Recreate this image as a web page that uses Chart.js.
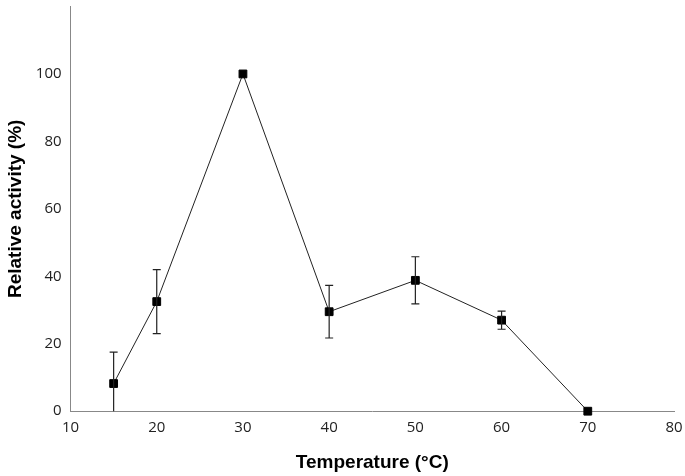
<!doctype html>
<html lang="en">
<head>
<meta charset="utf-8">
<title>Relative activity vs temperature</title>
<script src="https://cdn.jsdelivr.net/npm/chart.js@4.4.0/dist/chart.umd.min.js"></script>
<style>
  html, body { margin: 0; padding: 0; background: #fff; }
  #wrap { width: 685px; height: 476px; }
</style>
</head>
<body>
<div id="wrap"><canvas id="chart" width="685" height="476"></canvas></div>
<script>
// data
var temperatures = [15, 20, 30, 40, 50, 60, 70];
var activity = [8.2, 32.5, 100, 29.5, 38.8, 27, 0];
var errors = [9.3, 9.5, 0, 7.8, 7, 2.7, 0];

// draws vertical error bars with caps
var errorBars = {
    id: 'errorBars',
    afterDatasetsDraw: function(chart) {
        var ctx = chart.ctx;
        var x = chart.scales.x, y = chart.scales.y;
        var area = chart.chartArea;
        ctx.save();
        ctx.strokeStyle = '#222';
        ctx.lineWidth = 1.2;
        for (var i = 0; i < temperatures.length; i++) {
            if (!errors[i]) continue;
            var px = x.getPixelForValue(temperatures[i]);
            var top = y.getPixelForValue(activity[i] + errors[i]);
            var bot = y.getPixelForValue(activity[i] - errors[i]);
            var clipped = bot > area.bottom;
            bot = Math.min(bot, area.bottom);
            ctx.beginPath();
            ctx.moveTo(px, top); ctx.lineTo(px, bot);
            ctx.moveTo(px - 4, top); ctx.lineTo(px + 4, top);
            if (!clipped) { ctx.moveTo(px - 4, bot); ctx.lineTo(px + 4, bot); }
            ctx.stroke();
        }
        ctx.restore();
    }
};

var points = temperatures.map(function(t, i) { return { x: t, y: activity[i] }; });

new Chart(document.getElementById('chart').getContext('2d'), {
    type: 'scatter',
    data: {
        datasets: [{
            data: points,
            showLine: true,
            borderColor: '#222',
            borderWidth: 1,
            pointStyle: 'rect',
            pointRadius: 5.5,
            pointBackgroundColor: '#000',
            pointBorderColor: '#000',
            clip: false
        }]
    },
    options: {
        responsive: false,
        animation: false,
        layout: { padding: { left: 0, right: 11, top: -1, bottom: -2 } },
        plugins: { legend: { display: false }, tooltip: { enabled: false } },
        scales: {
            x: {
                type: 'linear',
                min: 10, max: 80,
                afterFit: function(scale) { scale.paddingRight = 0; },
                grid: { display: false, drawOnChartArea: false, drawTicks: true, tickLength: 5, color: '#888' },
                border: { color: '#888', width: 1 },
                ticks: { stepSize: 10, color: '#222', font: { family: 'Open Sans', size: 15 }, padding: 3 },
                title: { display: true, text: 'Temperature (°C)', color: '#000',
                         font: { family: 'Liberation Sans', size: 19, weight: 'bold' }, padding: { top: 11 } }
            },
            y: {
                min: 0, max: 120,
                afterBuildTicks: function(scale) {
                    // the top of the axis (120) carries no tick
                    scale.ticks = scale.ticks.filter(function(t) { return t.value !== 120; });
                },
                afterFit: function(scale) { scale.paddingTop = 0; },
                grid: { display: false, drawOnChartArea: false, drawTicks: true, tickLength: 5, color: '#888' },
                border: { color: '#888', width: 1 },
                ticks: { stepSize: 20, color: '#222', font: { family: 'Open Sans', size: 15 }, padding: 4 },
                title: { display: true, text: 'Relative activity (%)', color: '#000',
                         font: { family: 'Liberation Sans', size: 19, weight: 'bold' }, padding: { bottom: 5 } }
            }
        }
    },
    plugins: [errorBars]
});
</script>
</body>
</html>
